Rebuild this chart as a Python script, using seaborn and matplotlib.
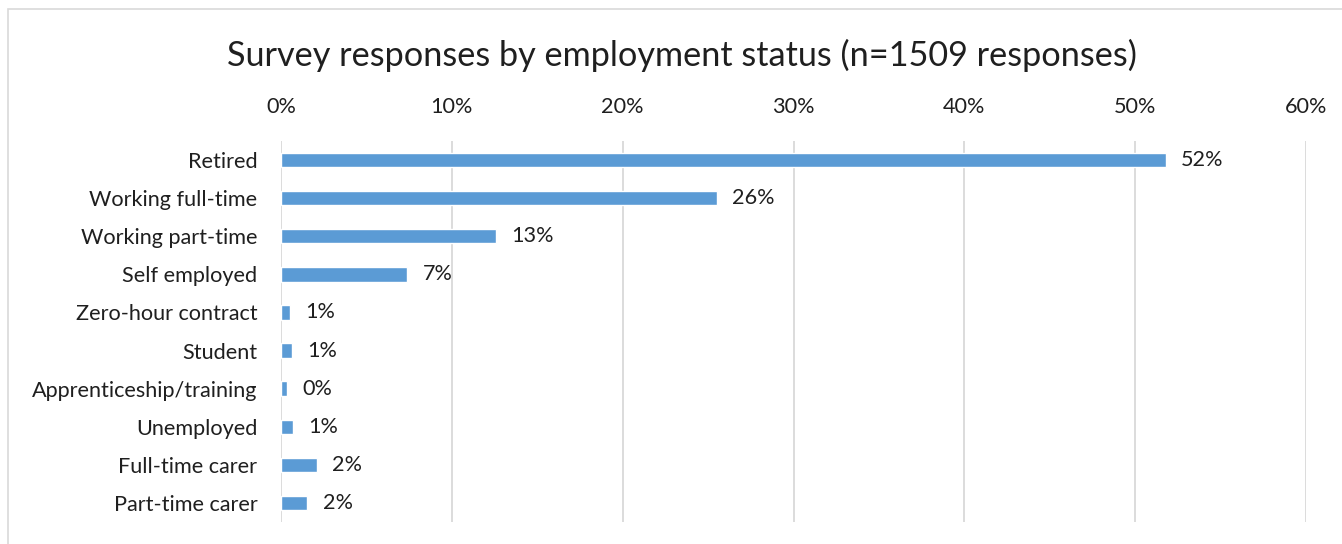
import matplotlib
matplotlib.use("Agg")
import matplotlib.pyplot as plt
import seaborn as sns
import pandas as pd
from matplotlib.patches import Rectangle

categories = ["Retired", "Working full-time", "Working part-time", "Self employed",
              "Zero-hour contract", "Student", "Apprenticeship/training", "Unemployed",
              "Full-time carer", "Part-time carer"]
values = [51.8, 25.5, 12.6, 7.4, 0.53, 0.65, 0.35, 0.7, 2.1, 1.55]
ticks = [0, 10, 20, 30, 40, 50, 60]
title = "Survey responses by employment status (n=1509 responses)"

sns.set_theme(style="white")
plt.rcParams['font.family'] = ['Lato', 'DejaVu Sans']
text_color = "#1f1f1f"

df = pd.DataFrame({"status": categories, "pct": values})

W, H = 1342, 544
fig = plt.figure(figsize=(W / 100, H / 100), dpi=100)
ax = fig.add_axes([281 / W, 1 - 522 / H, (1306 - 281) / W, (522 - 141) / H])

sns.barplot(data=df, x="pct", y="status", orient="h", color="#5B9BD5",
            saturation=1, width=0.38, ax=ax)

ax.set_xlim(0, 60)
ax.set_xticks(ticks)
ax.set_xticklabels([f"{t}%" for t in ticks])
ax.xaxis.tick_top()
ax.xaxis.grid(True, color="#D9D9D9", linewidth=1.3)
ax.set_axisbelow(True)
ax.set_xlabel("")
ax.set_ylabel("")
for s in ax.spines.values():
    s.set_visible(False)
ax.tick_params(axis="both", length=0, labelsize=15.6, colors=text_color)
ax.tick_params(axis="x", pad=17)
ax.tick_params(axis="y", pad=17)

ax.bar_label(ax.containers[0], labels=[f"{round(v):d}%" for v in values],
             padding=11, fontsize=15.6, color=text_color)

fig.text((225 + 1138) / 2 / W, 1 - 55 / H, title, ha="center", va="center",
         fontsize=24.7, color=text_color)

fig.patches.append(Rectangle((8 / W, -0.1), 1.2, 1 - 9 / H + 0.1,
                             transform=fig.transFigure, fill=False,
                             edgecolor="#D9D9D9", linewidth=1.2))

fig.savefig("out.png", dpi=100, facecolor="white")
